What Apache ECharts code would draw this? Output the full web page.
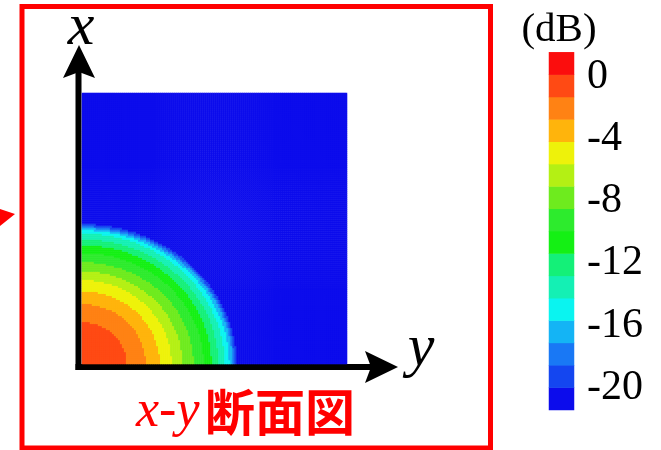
<!DOCTYPE html>
<html>
<head>
<meta charset="utf-8">
<script src="https://cdn.jsdelivr.net/npm/echarts@6/dist/echarts.min.js"></script>
<style>
  html, body { margin: 0; padding: 0; background: #ffffff; }
  #chart { width: 661px; height: 450px; }
</style>
</head>
<body>
<div id="chart"></div>
<script>
// Colour scale: 16 level bands, from the 0 dB end down to the -20 dB end
const bandColors = [
  '#fb0d0d', '#ff4a14', '#ff8214', '#ffb40c', '#eef20a', '#b4f014',
  '#6eeb1e', '#2deb2d', '#14f014', '#14f078', '#14f0b4', '#0af4f0',
  '#14b4f5', '#1978f5', '#1446f0', '#0c0cec'
];
const scaleTop = 1.57;      // dB at the top edge of the colour bar
const scaleBottom = -21.43; // dB at the bottom edge of the colour bar
const tickValues = [0, -4, -8, -12, -16, -20];

// Level contours of the x-y section, as semi-axes (fraction of the section size).
// Entry k is the outer edge of band k+1 (band 1 = the innermost region at the origin).
const contourAlongY = [0.169, 0.241, 0.294, 0.339, 0.380, 0.422, 0.460, 0.490, 0.516, 0.539, 0.557, 0.569, 0.576, 0.584];
const contourAlongX = [0.155, 0.221, 0.269, 0.310, 0.343, 0.376, 0.410, 0.439, 0.461, 0.483, 0.494, 0.502, 0.509, 0.517];

// Section sampling (cells along y and along x)
const cellsY = 132;
const cellsX = 135;

const bandStep = (scaleTop - scaleBottom) / bandColors.length;
const bandValue = b => scaleTop - (b + 0.5) * bandStep;

// Band of a cell: the first contour that encloses it
function bandAt(u, v) {
  for (let k = 0; k < contourAlongY.length; k++) {
    const a = u / contourAlongY[k], c = v / contourAlongX[k];
    if (a * a + c * c <= 1) return k + 1;
  }
  return bandColors.length - 1;
}

const sectionData = [];
for (let i = 0; i < cellsY; i++) {
  for (let j = 0; j < cellsX; j++) {
    const u = (i + 0.5) / cellsY, v = (j + 0.5) / cellsX;
    sectionData.push([i, j, +bandValue(bandAt(u, v)).toFixed(3)]);
  }
}

// Colour bar cells, bottom band first
const barData = bandColors.map((_, idx) => {
  const b = bandColors.length - 1 - idx;
  return [0, idx, +bandValue(b).toFixed(3)];
});

const pieces = bandColors.map((color, b) => ({
  gt: scaleTop - (b + 1) * bandStep,
  lte: scaleTop - b * bandStep,
  color: color
}));

const seq = n => Array.from({ length: n }, (_, i) => i);

// Layout
const sec = { left: 82, top: 93, width: 265, height: 271 };
const bar = { left: 549, top: 52.3, width: 25, height: 357.7 };
const axisX = 78.5;   // vertical arrow shaft
const axisY = 367;    // horizontal arrow shaft
const red = '#ff0000';

const chart = echarts.init(document.getElementById('chart'), null, { renderer: 'canvas' });
chart.setOption({
  animation: false,
  backgroundColor: '#ffffff',
  grid: [
    { left: sec.left, top: sec.top, width: sec.width, height: sec.height },
    { left: bar.left, top: bar.top, width: bar.width, height: bar.height }
  ],
  xAxis: [
    { type: 'category', gridIndex: 0, data: seq(cellsY), show: false },
    { type: 'category', gridIndex: 1, data: ['bar'], show: false }
  ],
  yAxis: [
    { type: 'category', gridIndex: 0, data: seq(cellsX), show: false },
    { type: 'category', gridIndex: 1, data: seq(bandColors.length), show: false },
    {
      type: 'value', gridIndex: 1, position: 'right',
      min: scaleBottom, max: scaleTop,
      axisLine: { show: false }, axisTick: { show: false }, splitLine: { show: false },
      axisLabel: {
        customValues: tickValues, margin: 13, color: '#000000',
        fontFamily: 'Liberation Serif', fontSize: 42, showMinLabel: true, showMaxLabel: true
      }
    }
  ],
  visualMap: {
    type: 'piecewise', show: false, seriesIndex: [0, 1], pieces: pieces
  },
  series: [
    {
      type: 'heatmap', xAxisIndex: 0, yAxisIndex: 0, data: sectionData,
      progressive: 0, itemStyle: { borderWidth: 0 }, emphasis: { disabled: true }
    },
    {
      type: 'heatmap', xAxisIndex: 1, yAxisIndex: 1, data: barData,
      progressive: 0, itemStyle: { borderWidth: 0 }, emphasis: { disabled: true }
    }
  ],
  graphic: [
    // red frame round the section
    { type: 'rect', shape: { x: 22, y: 6.5, width: 468.5, height: 441.5 },
      style: { fill: 'none', stroke: red, lineWidth: 5 } },
    // pointer entering from the left
    { type: 'polygon', shape: { points: [[0, 209], [15, 214], [0, 226]] }, style: { fill: red } },
    // x axis arrow (vertical)
    { type: 'line', shape: { x1: axisX, y1: axisY + 3, x2: axisX, y2: 72 },
      style: { stroke: '#000000', lineWidth: 6 } },
    { type: 'polygon', shape: { points: [[63, 78], [79, 45], [95, 78], [79, 72]] }, style: { fill: '#000000' } },
    // y axis arrow (horizontal)
    { type: 'line', shape: { x1: axisX - 3, y1: axisY, x2: 372, y2: axisY },
      style: { stroke: '#000000', lineWidth: 6 } },
    { type: 'polygon', shape: { points: [[365, 351], [398, 367], [365, 383], [371, 367]] }, style: { fill: '#000000' } },
    // axis names
    { type: 'text', x: 81, y: 28, style: { text: 'x', font: 'italic 60px "Liberation Serif"', fill: '#000000', align: 'center', verticalAlign: 'middle' } },
    { type: 'text', x: 421, y: 349, style: { text: 'y', font: 'italic 60px "Liberation Serif"', fill: '#000000', align: 'center', verticalAlign: 'middle' } },
    // colour bar unit
    { type: 'text', x: 559, y: 30, style: { text: '(dB)', font: '41px "Liberation Serif"', fill: '#000000', align: 'center', verticalAlign: 'middle' } },
    // section caption
    { type: 'text', x: 136, y: 412, style: { text: 'x-y', font: 'italic 52px "Liberation Serif"', fill: red, align: 'left', verticalAlign: 'middle' } },
    { type: 'text', x: 205, y: 412, style: { text: '断面図', font: 'bold 50px "Noto Sans CJK JP"', fill: red, align: 'left', verticalAlign: 'middle' } }
  ]
});
</script>
</body>
</html>
